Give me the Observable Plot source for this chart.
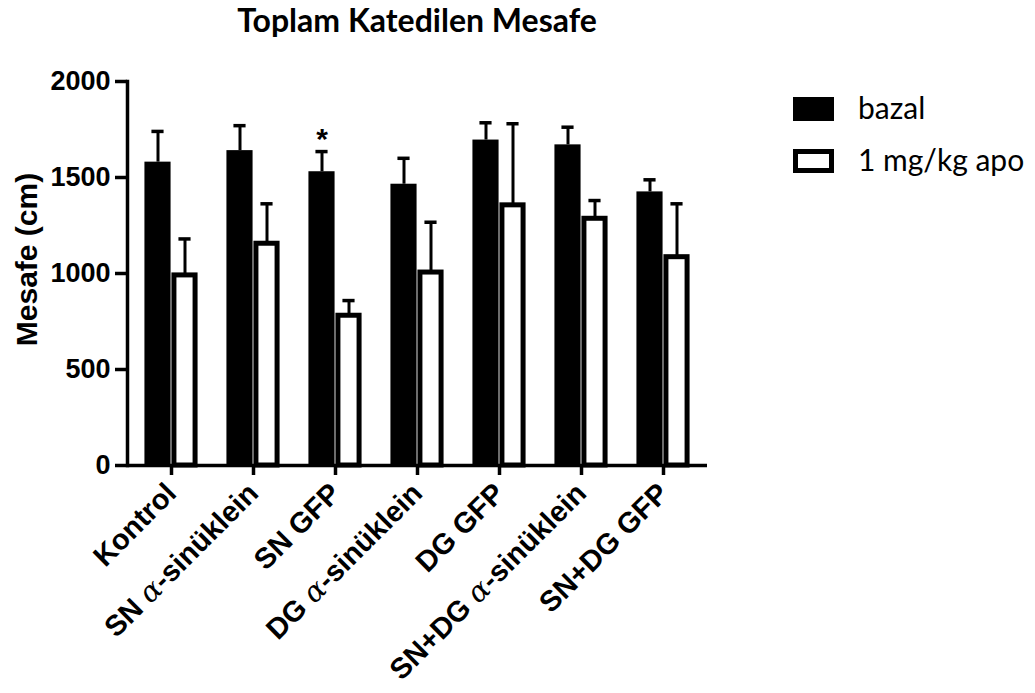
<!DOCTYPE html>
<html><head><meta charset="utf-8">
<script src="https://cdn.jsdelivr.net/npm/d3@7"></script>
<script src="https://cdn.jsdelivr.net/npm/@observablehq/plot@0.6"></script>
<style>
html,body{margin:0;padding:0;background:#fff;}
#wrap{position:relative;width:1035px;height:693px;overflow:hidden;}
#wrap svg{position:absolute;left:0;top:0;}
#title{position:absolute;left:0;width:834px;top:4px;text-align:center;font-family:Lato,'Open Sans',sans-serif;font-weight:bold;font-size:32px;line-height:32px;color:#000;white-space:nowrap;}
</style></head><body><div id="wrap"></div>
<script>
// ---- data ----
const categories = ["Kontrol","SN α-sinüklein","SN GFP","DG α-sinüklein","DG GFP","SN+DG α-sinüklein","SN+DG GFP"];
const bazal    = [1580, 1640, 1530, 1465, 1695, 1670, 1425];
const bazalErr = [160, 130, 105, 135, 90, 92, 63];
const apo      = [990, 1155, 780, 1005, 1355, 1285, 1085];
const apoErr   = [190, 208, 79, 262, 425, 95, 278];
const seriesNames = ["bazal", "1 mg/kg apo"];
const yTicks = [0, 500, 1000, 1500, 2000];
const titleText = "Toplam Katedilen Mesafe";
const yLabel = "Mesafe (cm)";
const starGroups = ["SN GFP"];

// ---- layout ----
const W = 1035, H = 693, mL = 127, mR = 328, mT = 81, mB = 228;
const bw = (W - mL - mR) / categories.length;
const barW = 27, sw = 5, capW = 13, off = barW / 2;

const rows = categories.map((g, i) => ({
  group: g,
  bazal: bazal[i], bazalTop: bazal[i] + bazalErr[i],
  apo: apo[i], apoTop: apo[i] + apoErr[i]
}));

const chart = Plot.plot({
  width: W, height: H,
  marginLeft: mL, marginRight: mR, marginTop: mT, marginBottom: mB,
  style: {fontFamily: "'Liberation Sans', Arial, sans-serif", fontSize: "27px", fontWeight: "bold", background: "white", color: "black", overflow: "visible"},
  x: {type: "band", domain: categories, padding: 0},
  y: {domain: [0, 2000]},
  marks: [
    Plot.barY(rows, {x: "group", y: "bazal", fill: "black", insetLeft: bw / 2 - barW, insetRight: bw / 2}),
    Plot.ruleX(rows, {x: "group", y1: "bazal", y2: "bazalTop", dx: -off, strokeWidth: 3}),
    Plot.tickY(rows, {x: "group", y: "bazalTop", dx: -off, insetLeft: (bw - capW) / 2, insetRight: (bw - capW) / 2, strokeWidth: 3.5}),
    Plot.ruleX(rows, {x: "group", y1: "apo", y2: "apoTop", dx: off, strokeWidth: 3}),
    Plot.tickY(rows, {x: "group", y: "apoTop", dx: off, insetLeft: (bw - capW) / 2, insetRight: (bw - capW) / 2, strokeWidth: 3.5}),
    Plot.barY(rows, {x: "group", y: "apo", fill: "white", stroke: "black", strokeWidth: sw, insetLeft: bw / 2 + sw / 2, insetRight: bw / 2 - barW + sw / 2}),
    Plot.text(rows.filter(d => starGroups.includes(d.group)), {x: "group", y: "bazalTop", dx: -off, dy: -12, text: () => "*", fontSize: 30, fontWeight: "bold"}),
    Plot.axisY({ticks: yTicks, tickFormat: d3.format("d"), tickSize: 12, tickPadding: 5, fontSize: 27, fontWeight: "bold", strokeWidth: 3.5, label: null}),
    Plot.text([yLabel], {frameAnchor: "left", rotate: -90, dx: -100, dy: -14, fontSize: 30, fontWeight: "bold", textAnchor: "middle", lineAnchor: "middle"}),
    Plot.axisX({tickRotate: -45, tickSize: 10, tickPadding: 13, fontSize: 29, fontWeight: "bold", strokeWidth: 3.5, label: null}),
    Plot.ruleY([0], {strokeWidth: 3.5}),
    Plot.frame({anchor: "left", strokeWidth: 3.5})
  ]
});
document.getElementById("wrap").appendChild(chart);

// alpha glyphs in math italic, like the original
d3.select(chart).selectAll("g[aria-label='x-axis tick label'] text").each(function() {
  const t = this.textContent;
  if (!t.includes("α")) return;
  const parts = t.split("α");
  const sel = d3.select(this);
  sel.text(null);
  parts.forEach((p, i) => {
    if (i > 0) sel.append("tspan").attr("font-family", "'DejaVu Serif', serif").attr("font-style", "italic").attr("font-weight", "normal").text("α");
    sel.append("tspan").text(p);
  });
});

// ---- title & legend ----
const wrap = d3.select("#wrap");
wrap.append("div").attr("id", "title").text(titleText);
const ov = wrap.append("svg").attr("width", W).attr("height", H)
  .style("pointer-events", "none").attr("font-family", "Lato, 'Open Sans', sans-serif");
const lg = ov.append("g");
seriesNames.forEach((name, i) => {
  const y0 = 97 + i * 52;
  if (i === 0) lg.append("rect").attr("x", 793).attr("y", y0).attr("width", 41).attr("height", 24).attr("fill", "black");
  else lg.append("rect").attr("x", 793 + sw / 2).attr("y", y0 + sw / 2).attr("width", 41 - sw).attr("height", 24 - sw).attr("fill", "white").attr("stroke", "black").attr("stroke-width", sw);
  lg.append("text").attr("x", 858).attr("y", y0 + 22).attr("font-size", 30).attr("fill", "black").text(name);
});
</script></body></html>
